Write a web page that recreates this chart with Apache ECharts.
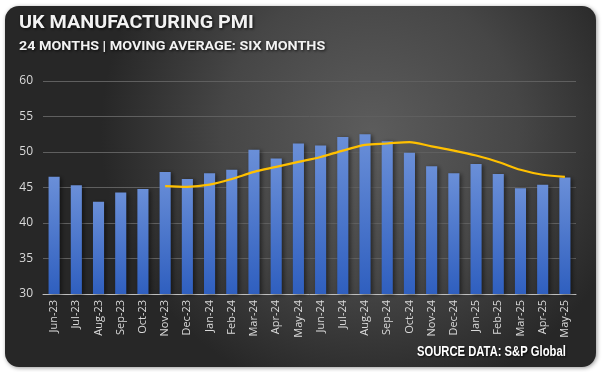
<!DOCTYPE html>
<html>
<head>
<meta charset="utf-8">
<script src="https://cdn.jsdelivr.net/npm/echarts@6/dist/echarts.min.js"></script>
<style>
html,body{margin:0;padding:0;background:#ffffff;}
#chart{width:602px;height:372px;}
</style>
</head>
<body>
<div id="chart"></div>
<script>
const months = ['Jun-23','Jul-23','Aug-23','Sep-23','Oct-23','Nov-23','Dec-23','Jan-24','Feb-24','Mar-24','Apr-24','May-24','Jun-24','Jul-24','Aug-24','Sep-24','Oct-24','Nov-24','Dec-24','Jan-25','Feb-25','Mar-25','Apr-25','May-25'];
const pmi = [46.5,45.3,43.0,44.3,44.8,47.2,46.2,47.0,47.5,50.3,49.1,51.2,50.9,52.1,52.5,51.5,49.9,48.0,47.0,48.3,46.9,44.9,45.4,46.4];
const movingAvg = [null,null,null,null,null,45.2,45.1,45.4,46.2,47.2,47.9,48.6,49.3,50.2,51.0,51.2,51.4,50.8,50.2,49.5,48.6,47.5,46.8,46.5];
const yTicks = [30,35,40,45,50,55,60];

const chart = echarts.init(document.getElementById('chart'), null, {renderer:'canvas'});
chart.setOption({
  animation:false,
  backgroundColor:'transparent',
  graphic:[{
    type:'rect', z:-10,
    shape:{x:5,y:6,width:591,height:361,r:14},
    style:{
      fill:{type:'radial',x:0.62,y:0.35,r:0.75,colorStops:[{offset:0,color:'#5c5c5c'},{offset:0.55,color:'#464646'},{offset:1,color:'#272727'}]},
      shadowBlur:4, shadowColor:'rgba(0,0,0,0.4)', shadowOffsetX:1, shadowOffsetY:1
    }
  },{
    type:'text', x:19, y:14, scaleX:1.04, z:10,
    style:{text:'UK MANUFACTURING PMI', fill:'#f2f2f2', font:'bold 19px Roboto', textShadowColor:'rgba(0,0,0,0.8)', textShadowBlur:3, textShadowOffsetX:1, textShadowOffsetY:1}
  },{
    type:'text', x:19, y:40, scaleX:1.06, z:10,
    style:{text:'24 MONTHS | MOVING AVERAGE: SIX MONTHS', fill:'#f2f2f2', font:'bold 13.5px Roboto', textShadowColor:'rgba(0,0,0,0.8)', textShadowBlur:3, textShadowOffsetX:1, textShadowOffsetY:1}
  },{
    type:'text', x:417, y:344, scaleX:0.775, z:10,
    style:{text:'SOURCE DATA: S&P Global', fill:'#ffffff', font:'bold 14.5px "Liberation Sans", Arial, sans-serif', textShadowColor:'rgba(0,0,0,0.8)', textShadowBlur:2, textShadowOffsetX:1, textShadowOffsetY:1}
  }],
  grid:{left:43,right:26,top:81,bottom:78},
  xAxis:{
    type:'category', data:months,
    axisLine:{lineStyle:{color:'#bfbfbf',width:1}},
    axisTick:{show:false},
    axisLabel:{rotate:90, color:'#d9d9d9', fontSize:11, fontFamily:'"Open Sans", sans-serif', margin:6, interval:0}
  },
  yAxis:{
    type:'value', min:yTicks[0], max:yTicks[yTicks.length-1], interval:5,
    axisLine:{show:false}, axisTick:{show:false},
    axisLabel:{color:'#d9d9d9', fontSize:12, fontFamily:'"Open Sans", sans-serif', margin:10},
    splitLine:{lineStyle:{color:'#5f5f5f',width:1}}
  },
  series:[{
    type:'bar', data:pmi, barWidth:'50%', z:2,
    itemStyle:{
      color:{type:'linear',x:0,y:0,x2:0,y2:1,colorStops:[{offset:0,color:'#6a8fd8'},{offset:1,color:'#2f5fbf'}]},
      shadowBlur:4, shadowColor:'rgba(0,0,0,0.5)', shadowOffsetX:2, shadowOffsetY:1
    }
  },{
    type:'line', data:movingAvg, smooth:0.3, showSymbol:false, z:3,
    lineStyle:{color:'#ffc000', width:2.2}
  }]
});
</script>
</body>
</html>
